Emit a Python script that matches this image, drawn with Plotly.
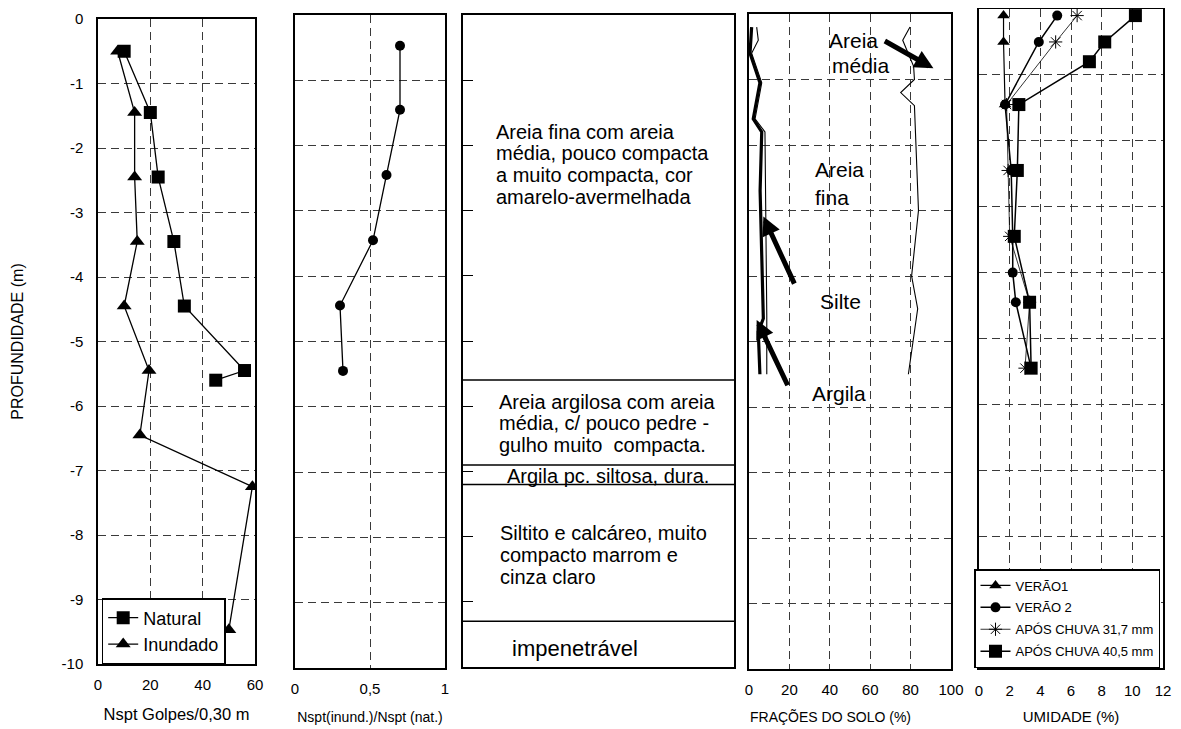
import plotly.graph_objects as go

# ---------------- data ----------------
# Panel 1: Nspt (golpes / 0,30 m)
nat_depth = [-0.5, -1.45, -2.45, -3.45, -4.45, -5.45, -5.6]
nat_nspt = [10, 20, 23, 29, 33, 56, 45]
inu_depth = [-0.5, -1.45, -2.45, -3.45, -4.45, -5.45, -6.45, -7.25, -9.47]
inu_nspt = [7.5, 14, 14, 15, 10, 19.5, 16, 59, 50]

# Panel 2: Nspt(inund.)/Nspt(nat.)
ratio_depth = [-0.47, -1.45, -2.45, -3.45, -4.45, -5.45]
ratio_vals = [0.70, 0.70, 0.61, 0.52, 0.30, 0.32]

# Panel 3: soil profile (layer boundaries, m) and descriptions
layer_bounds = [-5.6, -6.9, -7.2, -9.3]
layer_texts = [
    ["Areia fina com areia", "média, pouco compacta", "a muito compacta, cor", "amarelo-avermelhada"],
    ["Areia argilosa com areia", "média, c/ pouco pedre -", "gulho muito\u00a0 compacta."],
    ["Argila pc. siltosa, dura."],
    ["Siltito e calcáreo, muito", "compacto marrom e", "cinza claro"],
    ["impenetrável"],
]

# Panel 4: soil fractions (cumulative %)
argila_depth = [-0.2, -0.6, -1.05, -1.6, -1.8, -2.7, -4.65, -4.85, -5.5]
argila_pct = [1.3, 0.5, 5.4, 2.1, 6.3, 5.5, 7.1, 4.6, 5.4]
silte_depth = [-0.2, -0.4, -0.6, -1.05, -1.6, -1.8, -4.6, -5.5]
silte_pct = [3.8, 4.6, 1.3, 6.3, 3.0, 7.9, 8.8, 8.8]
afina_depth = [-0.2, -0.4, -0.8, -1.0, -1.2, -1.4, -3.0, -4.0, -4.5, -5.5]
afina_pct = [79.7, 76.1, 81.5, 81.9, 75.1, 81.9, 83.9, 80.5, 83.5, 78.9]

# Panel 5: umidade (%)
v1_depth = [-0.1, -0.5, -1.45]
v1_umid = [1.6, 1.6, 1.7]
v2_depth = [-0.1, -0.5, -1.45, -2.45, -3.45, -4.0, -4.45, -5.45]
v2_umid = [5.1, 3.9, 1.7, 2.1, 2.2, 2.2, 2.4, 3.4]
c31_depth = [-0.1, -0.5, -1.45, -2.45, -3.45, -4.45, -5.45]
c31_umid = [6.4, 5.0, 1.8, 1.9, 2.0, 3.3, 3.0]
c40_depth = [-0.1, -0.5, -0.8, -1.45, -2.45, -3.45, -4.45, -5.45]
c40_umid = [10.2, 8.2, 7.2, 2.6, 2.5, 2.3, 3.3, 3.4]

# tick labels
depth_ticks = [0, -1, -2, -3, -4, -5, -6, -7, -8, -9, -10]
depth_tick_text = ["0", "-1", "-2", "-3", "-4", "-5", "-6", "-7", "-8", "-9", "-10"]
nspt_ticks = [0, 20, 40, 60]
ratio_ticks = [0, 0.5, 1]
ratio_tick_text = ["0", "0,5", "1"]
frac_ticks = [0, 20, 40, 60, 80, 100]
umid_ticks = [0, 2, 4, 6, 8, 10, 12]

# ---------------- layout helpers ----------------
# the page body adds an 8 px margin, so the figure is sized/offset to fill the window
OX, OY = 8, 8
W, H = 1181 - OX, 729 - OY
FONT = "Liberation Sans, Arial, Helvetica, sans-serif"


def xdom(a, b):
    return [(a - OX) / W, (b - OX) / W]


def ydom(top, bottom):
    return [1 - (bottom - OY) / H, 1 - (top - OY) / H]


def px(x):
    return (x - OX) / W


def py(y):
    return 1 - (y - OY) / H


panels = {
    1: (98, 255, 19, 664),
    2: (295, 445, 15, 668),
    3: (463, 734, 15, 667),
    4: (749, 951, 14, 669),
    5: (979, 1163, 9, 668),
}

GRID = dict(showgrid=True, gridcolor="#3a3a3a", griddash="8px,5px", gridwidth=1)
FRAME = dict(showline=True, mirror=True, linecolor="black", linewidth=1.5, zeroline=False,
             automargin=False)
TICKF = dict(size=15, color="black", family=FONT)

fig = go.Figure()

# Panel 1
fig.add_trace(go.Scatter(
    x=nat_nspt, y=nat_depth, mode="lines+markers", name="Natural",
    marker=dict(symbol="square", size=13, color="black"),
    line=dict(color="black", width=1.3), xaxis="x", yaxis="y", legend="legend"))
fig.add_trace(go.Scatter(
    x=inu_nspt, y=inu_depth, mode="lines+markers", name="Inundado",
    marker=dict(symbol="triangle-up", size=13, color="black"),
    line=dict(color="black", width=1.3), xaxis="x", yaxis="y", legend="legend"))

# Panel 2
fig.add_trace(go.Scatter(
    x=ratio_vals, y=ratio_depth, mode="lines+markers", showlegend=False,
    marker=dict(symbol="circle", size=10, color="black"),
    line=dict(color="black", width=1.3), xaxis="x2", yaxis="y2"))

# Panel 4
fig.add_trace(go.Scatter(
    x=argila_pct, y=argila_depth, mode="lines", showlegend=False,
    line=dict(color="black", width=3.2), xaxis="x4", yaxis="y4"))
fig.add_trace(go.Scatter(
    x=silte_pct, y=silte_depth, mode="lines", showlegend=False,
    line=dict(color="black", width=1.1), xaxis="x4", yaxis="y4"))
fig.add_trace(go.Scatter(
    x=afina_pct, y=afina_depth, mode="lines", showlegend=False,
    line=dict(color="black", width=1.1), xaxis="x4", yaxis="y4"))

# Panel 5
fig.add_trace(go.Scatter(
    x=v1_umid, y=v1_depth, mode="lines+markers", name="VERÃO1", legendgroup="a",
    marker=dict(symbol="triangle-up", size=11, color="black"),
    line=dict(color="black", width=1.2), xaxis="x5", yaxis="y5", legend="legend2"))
fig.add_trace(go.Scatter(
    x=v2_umid, y=v2_depth, mode="lines+markers", name="VERÃO 2", legendgroup="b",
    marker=dict(symbol="circle", size=10, color="black"),
    line=dict(color="black", width=1.5), xaxis="x5", yaxis="y5", legend="legend2"))
fig.add_trace(go.Scatter(
    x=c31_umid, y=c31_depth, mode="lines+markers", name="APÓS CHUVA 31,7 mm", legendgroup="c",
    marker=dict(symbol="asterisk-open", size=11, color="black", line=dict(color="black", width=1)),
    line=dict(color="black", width=0.8), xaxis="x5", yaxis="y5", legend="legend2"))
fig.add_trace(go.Scatter(
    x=c40_umid, y=c40_depth, mode="lines+markers", name="APÓS CHUVA 40,5 mm", legendgroup="d",
    marker=dict(symbol="square", size=13, color="black"),
    line=dict(color="black", width=1.5), xaxis="x5", yaxis="y5", legend="legend2"))

# Panel 3 layer boundaries
for d in layer_bounds:
    fig.add_shape(type="line", xref="x3 domain", yref="y3", x0=0, x1=1, y0=d, y1=d,
                  line=dict(color="black", width=1.5))

annotations = []
# Panel 3 texts: (first line depth, left x in [0,1], font size)
text_pos = [(-1.79, 0.114, 20), (-5.93, 0.127, 20), (-7.07, 0.154, 20), (-7.95, 0.129, 20), (-9.71, 0.172, 22)]
for lines, (y0, x0, fs) in zip(layer_texts, text_pos):
    for i, t in enumerate(lines):
        annotations.append(dict(
            text=t, x=x0, y=y0, xref="x3", yref="y3", xanchor="left", yanchor="middle",
            yshift=-21.7 * i, showarrow=False, font=dict(size=fs, color="black", family=FONT)))

# Panel 4 fraction labels
frac_labels = [("Areia", 38.6, -0.40), ("média", 40.1, -0.78), ("Areia", 31.7, -2.38),
               ("fina", 31.7, -2.80), ("Silte", 34.2, -4.39), ("Argila", 30.2, -5.80)]
for t, x, y in frac_labels:
    annotations.append(dict(text=t, x=x, y=y, xref="x4", yref="y4", xanchor="left",
                            yanchor="middle", showarrow=False,
                            font=dict(size=21, color="black", family=FONT)))

# Panel 4 arrows: (head x, head y, tail x, tail y)
arrows = [(91.3, -0.83, 66.5, -0.40), (7.1, -3.09, 22.8, -4.14), (3.8, -4.67, 19.5, -5.69)]
for hx, hy, tx, ty in arrows:
    annotations.append(dict(text="", x=hx, y=hy, ax=tx, ay=ty, xref="x4", yref="y4",
                            axref="x4", ayref="y4", showarrow=True, arrowhead=2,
                            arrowsize=0.75, arrowwidth=5, arrowcolor="black", standoff=0))

# Panel 4 axis title (set slightly left of centre, as in the original)
annotations.append(dict(text="FRAÇÕES DO SOLO (%)", x=px(748), y=py(717), xref="paper",
                        yref="paper", xanchor="left", yanchor="middle", showarrow=False,
                        font=dict(size=14, color="black", family=FONT)))

layout = dict(
    width=W, height=H, margin=dict(l=0, r=0, t=0, b=0, autoexpand=False),
    paper_bgcolor="white", plot_bgcolor="white",
    font=dict(family=FONT, color="black"),
    annotations=annotations,
    showlegend=True,
    legend=dict(x=px(101.7), y=py(664), xanchor="left", yanchor="bottom",
                bordercolor="black", borderwidth=1.5, bgcolor="white",
                font=dict(size=18, family=FONT, color="black"), itemwidth=30),
    legend2=dict(x=px(1160), y=py(668), xanchor="right", yanchor="bottom",
                 bordercolor="black", borderwidth=1.5, bgcolor="white",
                 font=dict(size=13, family=FONT, color="black"), itemwidth=30,
                 traceorder="grouped", tracegroupgap=2),
)

# axes
x1, x1b, t1, b1 = panels[1]
layout["xaxis"] = dict(domain=xdom(x1, x1b), range=[0, 60], tickvals=nspt_ticks, anchor="y",
                       tickfont=TICKF, ticks="", ticklabelstandoff=6,
                       title=dict(text="Nspt Golpes/0,30 m", font=dict(size=16.5), standoff=17),
                       **GRID, **FRAME)
layout["yaxis"] = dict(domain=ydom(t1, b1), range=[-10, 0], tickvals=depth_ticks,
                       ticktext=depth_tick_text, anchor="x", tickfont=TICKF, ticks="",
                       ticklabelstandoff=10,
                       title=dict(text="PROFUNDIDADE (m)", font=dict(size=16), standoff=34),
                       **GRID, **FRAME)

x2, x2b, t2, b2 = panels[2]
layout["xaxis2"] = dict(domain=xdom(x2, x2b), range=[0, 1], tickvals=ratio_ticks,
                        ticktext=ratio_tick_text, anchor="y2", tickfont=TICKF, ticks="",
                        ticklabelstandoff=6,
                        title=dict(text="Nspt(inund.)/Nspt (nat.)", font=dict(size=14), standoff=16),
                        **GRID, **FRAME)
layout["yaxis2"] = dict(domain=ydom(t2, b2), range=[-10, 0], tickvals=depth_ticks, anchor="x2",
                        showticklabels=False, ticks="", **GRID, **FRAME)

x3, x3b, t3, b3 = panels[3]
layout["xaxis3"] = dict(domain=xdom(x3, x3b), range=[0, 1], anchor="y3", showticklabels=False,
                        ticks="", showgrid=False, **FRAME)
layout["yaxis3"] = dict(domain=ydom(t3, b3), range=[-10, 0], tickvals=depth_ticks, anchor="x3",
                        showticklabels=False, ticks="inside", ticklen=10, tickcolor="black",
                        tickwidth=1, showgrid=False, **FRAME)

x4, x4b, t4, b4 = panels[4]
layout["xaxis4"] = dict(domain=xdom(x4, x4b), range=[0, 100], tickvals=frac_ticks, anchor="y4",
                        tickfont=TICKF, ticks="", ticklabelstandoff=6,
                        **GRID, **FRAME)
layout["yaxis4"] = dict(domain=ydom(t4, b4), range=[-10, 0], tickvals=depth_ticks, anchor="x4",
                        showticklabels=False, ticks="", **GRID, **FRAME)

x5, x5b, t5, b5 = panels[5]
layout["xaxis5"] = dict(domain=xdom(x5, x5b), range=[0, 12], tickvals=umid_ticks, anchor="y5",
                        tickfont=TICKF, ticks="", ticklabelstandoff=8,
                        title=dict(text="UMIDADE (%)", font=dict(size=15), standoff=14),
                        **GRID, **FRAME)
layout["yaxis5"] = dict(domain=ydom(t5, b5), range=[-10, 0], tickvals=depth_ticks, anchor="x5",
                        showticklabels=False, ticks="", **GRID, **FRAME)

fig.update_layout(**layout)
fig.write_html("out.html")
